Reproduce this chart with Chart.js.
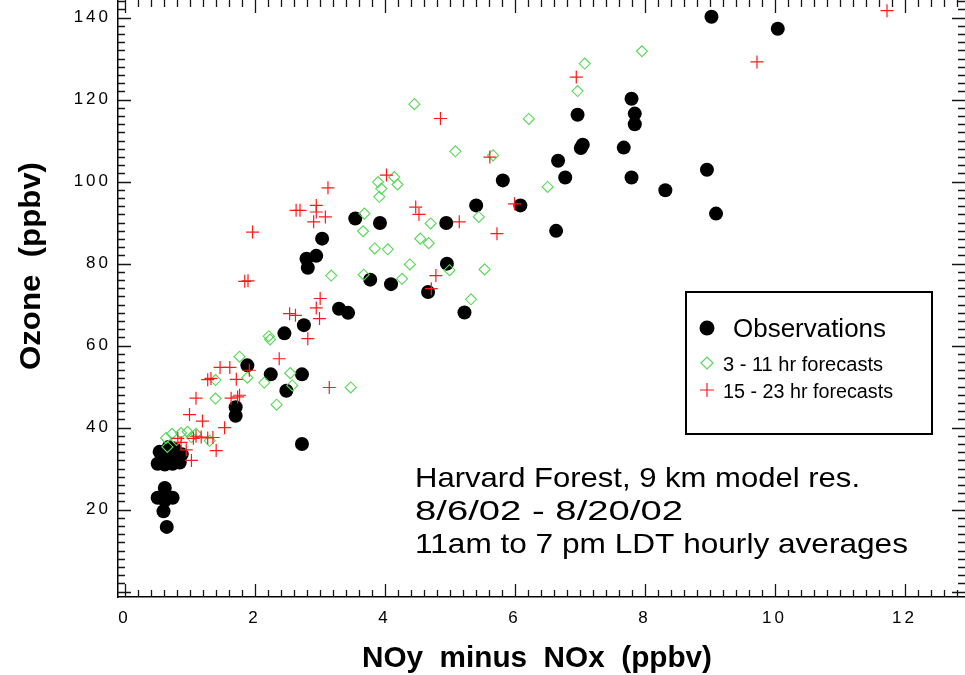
<!DOCTYPE html>
<html>
<head>
<meta charset="utf-8">
<title>Ozone vs NOy minus NOx</title>
<script src="https://cdn.jsdelivr.net/npm/chart.js@4.4.1/dist/chart.umd.min.js"></script>
<style>
  html, body { margin: 0; padding: 0; background: #fff; }
  #wrap { width: 965px; height: 675px; }
</style>
</head>
<body>
<div id="wrap"><canvas id="ozone-chart" width="965" height="675"></canvas></div>
<script>
// Observations (black dots)
const obsX = [9.03, 10.05, 7.80, 7.85, 7.85, 6.97, 7.05, 7.02, 7.68, 6.67,
              6.78, 7.80, 8.96, 8.32, 9.10, 6.64, 6.09, 5.82, 5.41, 4.95,
              3.93, 4.96, 4.10, 4.67, 5.23, 3.55, 3.04, 2.95, 2.80, 2.82,
              3.78, 3.30, 3.44, 2.76, 2.46, 1.89, 2.25, 2.73, 2.49, 1.71,
              1.71, 2.73, 0.51, 0.74, 0.54, 0.82, 0.77, 0.60, 0.65, 0.70,
              0.88, 0.62, 0.68, 0.85, 0.62, 0.51, 0.74, 0.62, 0.60, 0.65];
const obsY = [140.2, 137.3, 120.2, 116.6, 114.0, 116.3, 109.0, 108.2, 108.3, 105.1,
              101.0, 101.0, 102.9, 97.9, 92.2, 88.0, 94.2, 100.3, 94.2, 89.9,
              89.9, 80.0, 75.0, 73.1, 68.1, 91.0, 86.1, 81.9, 81.2, 79.0,
              76.1, 69.0, 68.0, 65.0, 63.0, 55.2, 53.0, 53.0, 49.0, 45.0,
              42.9, 36.0, 31.2, 31.2, 34.1, 32.9, 34.9, 32.5, 33.8, 32.0,
              33.5, 31.0, 35.3, 31.5, 25.3, 22.9, 22.9, 22.3, 19.6, 15.8];

// 3 - 11 hr forecasts (green diamonds)
const fc3X = [7.96, 7.08, 6.97, 6.22, 6.51, 4.46, 5.09, 5.67, 4.15, 4.20,
              3.90, 3.95, 3.92, 5.45, 4.71, 4.55, 4.68, 4.05, 3.85, 4.39,
              5.54, 5.00, 4.27, 5.33, 3.69, 3.67, 3.68, 3.18, 2.22, 2.24,
              1.77, 1.89, 2.15, 2.55, 2.58, 3.48, 1.40, 2.34, 1.40, 0.66,
              0.64, 0.73, 0.87, 0.97, 1.03, 1.31, 0.80, 1.10];
const fc3Y = [131.8, 128.8, 122.1, 115.3, 98.7, 118.9, 107.4, 106.4, 101.1, 99.3,
              99.9, 98.3, 96.3, 91.4, 89.8, 86.1, 85.0, 83.5, 83.7, 79.8,
              78.6, 78.4, 76.3, 71.3, 92.2, 87.9, 77.3, 77.1, 62.3, 61.5,
              57.3, 52.2, 51.0, 53.3, 50.3, 49.8, 47.1, 45.6, 51.6, 35.3,
              37.5, 38.5, 38.7, 39.0, 37.7, 36.8, 37.0, 38.5];

// 15 - 23 hr forecasts (red crosses)
const fc15X = [11.73, 9.73, 6.95, 4.86, 5.62, 4.03, 4.48, 4.53, 6.00, 5.15,
               5.73, 4.79, 4.72, 3.13, 2.64, 2.70, 2.95, 2.95, 3.09, 2.91,
               1.97, 1.85, 1.90, 3.01, 2.95, 3.00, 2.54, 2.63, 2.82, 2.38,
               3.15, 1.92, 1.62, 1.47, 1.72, 1.33, 1.28, 1.77, 1.10, 1.64,
               1.74, 1.00, 1.20, 1.54, 0.82, 1.10, 1.18, 1.28, 1.36, 1.41,
               1.03, 0.87, 0.95, 1.06];
const fc15Y = [141.7, 129.2, 125.5, 115.4, 106.0, 101.6, 93.8, 92.0, 94.6, 90.2,
               87.3, 77.1, 73.9, 98.5, 93.0, 93.0, 94.2, 92.6, 91.4, 90.2,
               87.7, 75.7, 75.8, 71.5, 69.2, 66.6, 67.8, 67.4, 61.7, 56.8,
               49.8, 54.0, 54.7, 54.7, 51.8, 52.0, 51.7, 47.9, 47.2, 47.2,
               47.5, 43.2, 41.6, 40.0, 37.4, 37.9, 37.7, 37.5, 37.6, 34.4,
               32.0, 36.4, 34.6, 37.4];

const xTicks = [0, 2, 4, 6, 8, 10, 12];
const yTicks = [20, 40, 60, 80, 100, 120, 140];

const annotationLines = [
  'Harvard Forest, 9 km model res.',
  '8/6/02 - 8/20/02',
  '11am to 7 pm LDT hourly averages'
];

const GREEN = '#55d855';
const RED = '#ff1a1a';
const FONT = "'Liberation Sans', Arial, Helvetica, sans-serif";

const toPoints = (xs, ys) => xs.map((x, i) => ({ x: x, y: ys[i] }));

// draw text squeezed or stretched to a target width
function fitText(ctx, text, x, y, width, font, align) {
  ctx.save();
  ctx.font = font;
  ctx.textBaseline = 'alphabetic';
  ctx.textAlign = 'left';
  const w = ctx.measureText(text).width;
  const sx = width / w;
  ctx.translate(x, y);
  ctx.scale(sx, 1);
  ctx.fillText(text, align === 'center' ? -w / 2 : 0, 0);
  ctx.restore();
}

// fixed axis box, no extra padding from the tick labels
function fixBox(size, key) {
  return s => {
    s[key] = size;
    s.paddingTop = 0;
    s.paddingBottom = 0;
    s.paddingLeft = 0;
    s.paddingRight = 0;
  };
}

// IDL style frame: in-pointing ticks on all four sides, titles, note and legend
const idlFrame = {
  id: 'idlFrame',
  beforeDraw(chart) {
    const ctx = chart.ctx;
    ctx.save();
    ctx.fillStyle = '#fff';
    ctx.fillRect(0, 0, chart.width, chart.height);
    ctx.restore();
    ctx.letterSpacing = '3px';
  },
  afterDraw(chart) {
    const ctx = chart.ctx;
    const a = chart.chartArea;
    const xs = chart.scales.x;
    const ys = chart.scales.y;
    ctx.letterSpacing = '0px';

    // tick marks
    ctx.save();
    ctx.strokeStyle = '#151515';
    ctx.lineWidth = 1.3;
    ctx.beginPath();
    for (let i = 0; i <= 64; i++) {
      const px = Math.round(xs.getPixelForValue(i * 0.2)) + 0.5;
      const len = i % 10 === 0 ? 13 : 7;
      ctx.moveTo(px, a.bottom); ctx.lineTo(px, a.bottom - len);
      ctx.moveTo(px, a.top); ctx.lineTo(px, a.top + len);
    }
    for (let i = 0; i <= 72; i++) {
      const py = Math.round(ys.getPixelForValue(i * 2)) + 0.5;
      const len = i % 10 === 0 ? 13 : 7;
      ctx.moveTo(a.left, py); ctx.lineTo(a.left + len, py);
      ctx.moveTo(a.right, py); ctx.lineTo(a.right - len, py);
    }
    ctx.stroke();
    ctx.restore();

    ctx.fillStyle = '#000';

    // axis titles
    fitText(ctx, 'NOy  minus  NOx  (ppbv)', 537, 667, 350, 'bold 30px ' + FONT, 'center');
    ctx.save();
    ctx.translate(40, 266);
    ctx.rotate(-Math.PI / 2);
    fitText(ctx, 'Ozone  (ppbv)', 0, 0, 208, 'bold 30px ' + FONT, 'center');
    ctx.restore();

    // note
    const noteWidths = [445, 268, 493];
    annotationLines.forEach((line, i) => {
      fitText(ctx, line, 415, 487 + i * 33, noteWidths[i], '28px ' + FONT, 'left');
    });

    // legend box
    ctx.save();
    ctx.strokeStyle = '#000';
    ctx.lineWidth = 2;
    ctx.strokeRect(686, 292, 246, 142);

    ctx.fillStyle = '#000';
    ctx.beginPath();
    ctx.arc(707, 328, 7.5, 0, Math.PI * 2);
    ctx.fill();
    fitText(ctx, 'Observations', 733, 337, 153, '25px ' + FONT, 'left');

    ctx.strokeStyle = GREEN;
    ctx.lineWidth = 1.2;
    ctx.beginPath();
    ctx.moveTo(701, 363); ctx.lineTo(707, 357); ctx.lineTo(713, 363); ctx.lineTo(707, 369);
    ctx.closePath();
    ctx.stroke();
    fitText(ctx, '3 - 11 hr forecasts', 723, 371, 160, '20px ' + FONT, 'left');

    ctx.strokeStyle = RED;
    ctx.beginPath();
    ctx.moveTo(700, 390); ctx.lineTo(714, 390);
    ctx.moveTo(707, 383); ctx.lineTo(707, 397);
    ctx.stroke();
    fitText(ctx, '15 - 23 hr forecasts', 723, 398, 170, '20px ' + FONT, 'left');
    ctx.restore();
  }
};

const ctx = document.getElementById('ozone-chart').getContext('2d');

new Chart(ctx, {
  type: 'scatter',
  data: {
    datasets: [
      {
        label: '15 - 23 hr forecasts',
        data: toPoints(fc15X, fc15Y),
        pointStyle: 'cross',
        pointRadius: 6.5,
        borderColor: RED,
        backgroundColor: RED,
        borderWidth: 1.2,
        order: 1
      },
      {
        label: '3 - 11 hr forecasts',
        data: toPoints(fc3X, fc3Y),
        pointStyle: 'rectRot',
        pointRadius: 5.5,
        borderColor: GREEN,
        backgroundColor: 'rgba(0,0,0,0)',
        borderWidth: 1.1,
        order: 2
      },
      {
        label: 'Observations',
        data: toPoints(obsX, obsY),
        pointStyle: 'circle',
        pointRadius: 7,
        borderWidth: 0,
        borderColor: '#000',
        backgroundColor: '#000',
        order: 3
      }
    ]
  },
  options: {
    responsive: false,
    animation: false,
    devicePixelRatio: 1,
    layout: { padding: 0, autoPadding: false },
    plugins: {
      legend: { display: false },
      tooltip: { enabled: false }
    },
    scales: {
      x: {
        type: 'linear',
        min: -0.1,
        max: 12.93,
        afterFit: fixBox(78, 'height'),
        afterBuildTicks: s => { s.ticks = xTicks.map(v => ({ value: v })); },
        grid: { display: false, drawTicks: false },
        border: { display: true, color: '#000', width: 1.5 },
        ticks: {
          padding: 11,
          color: '#000',
          font: { family: FONT, size: 17 },
          callback: v => String(v)
        }
      },
      y: {
        type: 'linear',
        min: -1.3,
        max: 144.3,
        afterFit: fixBox(118, 'width'),
        afterBuildTicks: s => { s.ticks = yTicks.map(v => ({ value: v })); },
        grid: { display: false, drawTicks: false },
        border: { display: true, color: '#000', width: 1.5 },
        ticks: {
          padding: 7,
          color: '#000',
          font: { family: FONT, size: 17 },
          callback: v => String(v)
        }
      }
    }
  },
  plugins: [idlFrame]
});
</script>
</body>
</html>
